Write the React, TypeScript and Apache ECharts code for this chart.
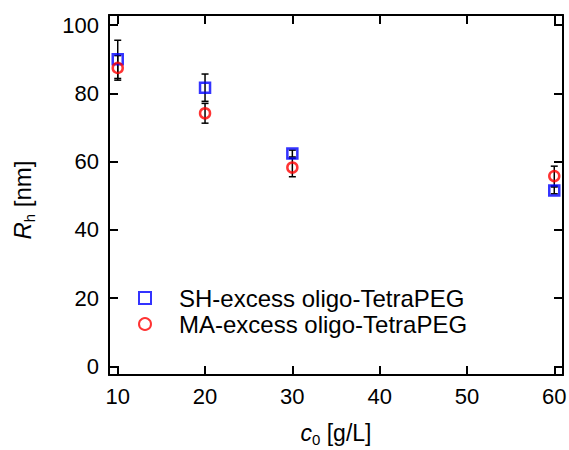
import React, { useEffect, useRef } from "react";
import * as echarts from "echarts";

const xTicks = [10, 20, 30, 40, 50, 60];
const yTicks = [0, 20, 40, 60, 80, 100];
const concentrations = [10, 20, 30, 60];
const shValues = [90.0, 81.7, 62.4, 51.6];
const shErrors = [5.6, 4.0, 1.0, 1.0];
const maValues = [87.5, 74.2, 58.3, 55.8];
const maErrors = [3.6, 2.9, 2.7, 2.9];
const seriesNames = ["SH-excess oligo-TetraPEG", "MA-excess oligo-TetraPEG"];

const FONT = "'Liberation Sans', Arial, Helvetica, sans-serif";

function errorSeries(values: number[], errors: number[]) {
  return {
    type: "custom",
    silent: true,
    z: 1,
    data: concentrations.map((c, i) => [c, values[i], errors[i]]),
    encode: { x: 0, y: 1 },
    renderItem: (params: any, api: any) => {
      const x = api.value(0);
      const y = api.value(1);
      const e = api.value(2);
      const top = api.coord([x, y + e]);
      const bot = api.coord([x, y - e]);
      const hw = 3.5;
      const st = { stroke: "#000", lineWidth: 1.5 };
      return {
        type: "group",
        children: [
          { type: "line", shape: { x1: top[0], y1: top[1], x2: bot[0], y2: bot[1] }, style: st },
          { type: "line", shape: { x1: top[0] - hw, y1: top[1], x2: top[0] + hw, y2: top[1] }, style: st },
          { type: "line", shape: { x1: bot[0] - hw, y1: bot[1], x2: bot[0] + hw, y2: bot[1] }, style: st },
        ],
      };
    },
  };
}

function titleRich(size: number) {
  return {
    i: { fontSize: size, fontStyle: "italic", fontFamily: FONT, color: "#000", lineHeight: 29 },
    t: { fontSize: size, fontFamily: FONT, color: "#000", lineHeight: 29 },
    sub: { fontSize: 15, fontFamily: FONT, color: "#000", lineHeight: 29, verticalAlign: "bottom" },
  };
}

export default function App() {
  const ref = useRef<HTMLDivElement>(null);
  useEffect(() => {
    if (!ref.current) return;
    const chart = echarts.init(ref.current, null, { renderer: "svg" });
    const axisLine = { show: true, onZero: false, lineStyle: { color: "#000", width: 2 } };
    const tickStyle = { show: true, inside: true, length: 9, lineStyle: { color: "#000", width: 2 } };
    const labelStyle = { color: "#000", fontSize: 22, fontFamily: FONT };
    chart.setOption({
      animation: false,
      textStyle: { fontFamily: FONT },
      grid: { left: 109, right: 6, top: 15, bottom: 75, containLabel: false, outerBoundsMode: "none" },
      legend: {
        orient: "vertical",
        left: 133,
        top: 281,
        itemWidth: 12,
        itemHeight: 12,
        itemGap: 2,
        data: seriesNames,
        textStyle: { color: "#000", fontSize: 24, fontFamily: FONT, lineHeight: 24, padding: [0, 0, 0, 23] },
      },
      xAxis: [
        {
          type: "value",
          position: "bottom",
          min: 9,
          max: 61,
          axisLine,
          axisTick: { ...tickStyle, customValues: xTicks },
          axisLabel: { ...labelStyle, margin: 10, customValues: xTicks },
          splitLine: { show: false },
          name: "{i|c}{sub|0}{t| [g/L]}",
          nameLocation: "middle",
          nameGap: 43,
          nameTextStyle: { ...labelStyle, rich: titleRich(23) },
        },
        {
          type: "value",
          position: "top",
          min: 9,
          max: 61,
          axisLine,
          axisTick: { ...tickStyle, customValues: xTicks },
          axisLabel: { show: false },
          splitLine: { show: false },
        },
      ],
      yAxis: [
        {
          type: "value",
          position: "left",
          min: -2.5,
          max: 103,
          axisLine,
          axisTick: { ...tickStyle, customValues: yTicks },
          axisLabel: { ...labelStyle, margin: 10, customValues: yTicks },
          splitLine: { show: false },
          name: "{i|R}{sub|h}{t| [nm]}",
          nameLocation: "middle",
          nameGap: 72,
          nameRotate: 90,
          nameTextStyle: { ...labelStyle, padding: [0, 10, 0, 0], rich: titleRich(24) },
        },
        {
          type: "value",
          position: "right",
          min: -2.5,
          max: 103,
          axisLine,
          axisTick: { ...tickStyle, customValues: yTicks },
          axisLabel: { show: false },
          splitLine: { show: false },
        },
      ],
      series: [
        errorSeries(shValues, shErrors),
        errorSeries(maValues, maErrors),
        {
          name: seriesNames[0],
          type: "scatter",
          z: 3,
          symbol: "rect",
          symbolSize: 10,
          itemStyle: { color: "rgba(0,0,0,0)", borderColor: "#0000ff", borderWidth: 2.5 },
          data: concentrations.map((c, i) => [c, shValues[i]]),
        },
        {
          name: seriesNames[1],
          type: "scatter",
          z: 3,
          symbol: "circle",
          symbolSize: 10,
          itemStyle: { color: "rgba(0,0,0,0)", borderColor: "#ff0000", borderWidth: 2.5 },
          data: concentrations.map((c, i) => [c, maValues[i]]),
        },
      ],
    });
    return () => chart.dispose();
  }, []);
  return (
    <div
      ref={ref}
      style={{ position: "fixed", left: 0, top: 0, width: 569, height: 450, background: "#fff" }}
    />
  );
}
